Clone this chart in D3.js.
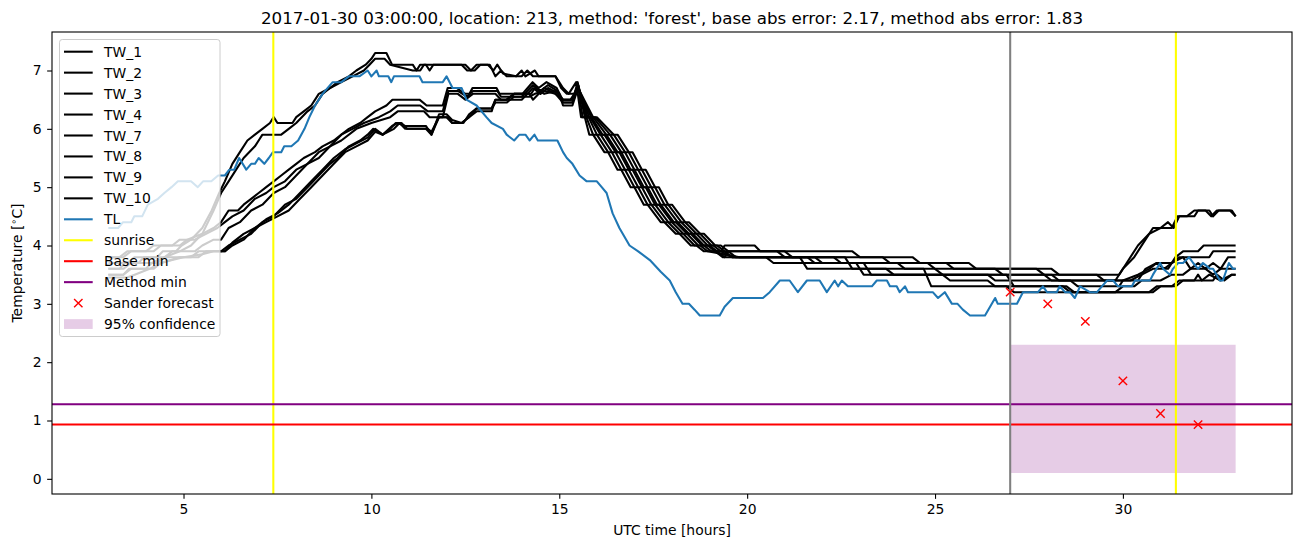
<!DOCTYPE html>
<html>
<head>
<meta charset="utf-8">
<script src="https://cdn.jsdelivr.net/npm/d3@7"></script>
<style>
  body { margin: 0; background: #fff; }
  svg { display: block; font-family: "DejaVu Sans", sans-serif; }
</style>
</head>
<body>
<svg id="chart" width="1302" height="547"></svg>
<script>
// sensor series, [hour, temperature]
const tw1 = [[3.0,3.6],[3.3,3.6],[3.45,3.7],[3.8,3.7],[3.95,3.8],[4.3,3.8],[4.45,3.9],[4.8,3.9],[4.95,4.0],[5.2,4.1],[5.5,4.3],[5.75,4.6],[5.95,4.9],[6.1,5.1],[6.3,5.4],[6.5,5.6],[6.7,5.8],[6.9,5.9],[7.1,6.0],[7.3,6.1],[7.4,6.2],[7.5,6.1],[7.9,6.1],[8.0,6.2],[8.2,6.3],[8.4,6.4],[8.6,6.6],[8.9,6.7],[9.1,6.8],[9.4,6.9],[9.6,7.0],[9.85,7.1],[10.0,7.2],[10.1,7.3],[10.4,7.3],[10.55,7.1],[11.1,7.1],[11.2,7.0],[11.3,7.1],[11.45,7.1],[11.55,7.0],[11.65,7.1],[12.5,7.1],[12.65,7.0],[12.8,7.1],[13.1,7.1],[13.25,7.0],[13.35,7.1],[13.5,6.95],[13.85,6.9],[14.0,7.0],[14.1,6.9],[14.35,7.0],[14.45,6.9],[14.9,6.9],[15.1,6.7],[15.25,6.6],[15.45,6.8],[15.58,6.2],[15.68,6.2],[15.8,5.9],[15.9,5.9],[16.2,5.6],[16.3,5.6],[16.55,5.3],[16.65,5.3],[16.9,5.0],[17.0,5.0],[17.25,4.7],[17.35,4.7],[17.7,4.4],[17.8,4.4],[18.1,4.2],[18.2,4.2],[18.5,4.0],[18.65,4.0],[18.85,3.9],[19.3,3.9],[19.4,4.0],[20.2,4.0],[20.35,3.9],[22.8,3.9],[23.0,3.8],[24.4,3.8],[24.6,3.7],[25.9,3.7],[26.1,3.6],[28.1,3.6],[28.3,3.5],[29.9,3.5],[30.0,3.6],[30.3,3.8],[30.6,4.1],[30.8,4.3],[31.3,4.3],[31.45,4.5],[31.7,4.5],[31.9,4.6],[32.2,4.6],[32.35,4.5],[32.5,4.6],[32.85,4.6],[33.0,4.5]];
const tw2 = [[3.0,3.5],[3.4,3.5],[3.55,3.6],[4.0,3.6],[4.15,3.7],[4.5,3.8],[4.9,3.9],[5.2,4.0],[5.5,4.2],[5.8,4.6],[6.0,4.9],[6.2,5.1],[6.4,5.3],[6.6,5.5],[6.9,5.7],[7.0,5.8],[7.1,5.9],[7.6,5.9],[7.8,6.0],[8.0,6.1],[8.3,6.3],[8.5,6.4],[8.7,6.6],[8.9,6.7],[9.2,6.8],[9.5,6.9],[9.8,7.0],[9.95,7.1],[10.1,7.2],[10.35,7.2],[10.5,7.1],[11.1,7.0],[11.3,7.0],[11.4,7.1],[12.4,7.1],[12.55,7.0],[12.75,7.0],[12.9,7.1],[13.15,7.1],[13.3,6.9],[13.45,7.0],[13.6,6.9],[14.0,6.9],[14.15,7.0],[14.3,6.9],[14.9,6.9],[15.05,6.7],[15.2,6.6],[15.4,6.6],[15.5,6.75],[15.75,6.2],[15.85,6.2],[16.15,5.9],[16.25,5.9],[16.55,5.6],[16.65,5.6],[16.9,5.3],[17.0,5.3],[17.25,5.0],[17.35,5.0],[17.6,4.7],[17.7,4.7],[18.05,4.4],[18.15,4.4],[18.45,4.2],[18.55,4.2],[18.85,4.0],[19.0,4.0],[19.2,3.9],[19.4,3.8],[19.5,3.9],[21.0,3.9],[21.2,3.8],[23.6,3.8],[23.8,3.7],[25.3,3.7],[25.5,3.6],[27.7,3.6],[27.9,3.5],[29.3,3.5],[29.5,3.4],[29.8,3.4],[30.1,3.7],[30.4,4.0],[30.7,4.2],[31.0,4.3],[31.2,4.4],[31.35,4.3],[31.5,4.5],[31.9,4.5],[32.0,4.6],[32.3,4.6],[32.4,4.5],[32.55,4.6],[32.9,4.6],[33.0,4.5]];
const tw3 = [[3.0,3.8],[3.4,3.8],[3.6,3.9],[4.2,3.9],[4.4,4.0],[4.9,4.0],[5.1,4.1],[5.5,4.2],[5.8,4.3],[6.0,4.4],[6.2,4.6],[6.45,4.6],[6.6,4.7],[6.8,4.8],[7.0,4.9],[7.2,5.0],[7.4,5.1],[7.6,5.2],[7.8,5.3],[8.0,5.4],[8.2,5.5],[8.5,5.6],[8.7,5.7],[9.0,5.8],[9.2,5.9],[9.4,6.0],[9.7,6.1],[9.9,6.2],[10.1,6.3],[10.4,6.4],[10.56,6.5],[11.28,6.5],[11.47,6.4],[11.9,6.4],[12.03,6.7],[12.27,6.7],[12.5,6.6],[12.61,6.6],[12.69,6.7],[13.33,6.7],[13.41,6.6],[14.02,6.6],[14.29,6.8],[14.45,6.7],[14.66,6.8],[14.93,6.7],[15.09,6.5],[15.36,6.5],[15.49,6.8],[15.68,6.2],[15.78,6.2],[16.0,5.9],[16.1,5.9],[16.4,5.6],[16.5,5.6],[16.75,5.3],[16.85,5.3],[17.1,5.0],[17.2,5.0],[17.45,4.7],[17.55,4.7],[17.9,4.4],[18.0,4.4],[18.3,4.2],[18.4,4.2],[18.7,4.0],[18.85,4.0],[19.05,3.9],[20.8,3.9],[21.0,3.8],[22.3,3.8],[22.5,3.7],[24.8,3.7],[25.0,3.6],[26.6,3.6],[26.8,3.5],[28.1,3.5],[28.3,3.4],[30.2,3.4],[30.5,3.5],[30.8,3.6],[31.2,3.6],[31.4,3.8],[31.6,3.9],[32.0,3.9],[32.15,4.0],[33.0,4.0]];
const tw4 = [[3.0,3.7],[3.5,3.7],[3.7,3.8],[4.5,3.8],[4.7,3.9],[5.3,3.9],[5.5,4.0],[5.8,4.1],[6.0,4.1],[6.2,4.3],[6.5,4.4],[6.8,4.6],[7.1,4.7],[7.4,4.9],[7.7,5.0],[8.0,5.2],[8.3,5.4],[8.6,5.5],[8.9,5.7],[9.2,5.8],[9.6,6.0],[10.0,6.1],[10.5,6.2],[10.7,6.3],[11.4,6.3],[11.55,6.2],[11.9,6.2],[12.05,6.6],[12.3,6.6],[12.5,6.5],[12.7,6.6],[13.3,6.6],[13.45,6.5],[14.0,6.5],[14.3,6.7],[14.5,6.6],[14.7,6.7],[15.0,6.6],[15.1,6.4],[15.35,6.4],[15.5,6.7],[15.8,6.2],[15.9,6.2],[16.25,5.9],[16.35,5.9],[16.65,5.6],[16.75,5.6],[17.0,5.3],[17.1,5.3],[17.35,5.0],[17.45,5.0],[17.7,4.7],[17.8,4.7],[18.15,4.4],[18.25,4.4],[18.55,4.2],[18.65,4.2],[18.95,4.0],[19.1,4.0],[19.3,3.9],[19.6,3.8],[21.6,3.8],[21.8,3.7],[24.0,3.7],[24.2,3.6],[25.0,3.6],[25.2,3.5],[27.9,3.5],[28.1,3.4],[30.4,3.4],[30.6,3.6],[30.9,3.7],[31.3,3.7],[31.5,3.8],[32.3,3.8],[32.4,3.9],[33.0,3.9]];
const tw7 = [[3.0,3.6],[3.4,3.6],[3.6,3.7],[4.3,3.7],[4.5,3.8],[5.2,3.8],[5.4,3.9],[6.0,3.9],[6.2,4.0],[6.5,4.1],[6.8,4.2],[7.1,4.4],[7.4,4.5],[7.7,4.7],[8.0,4.8],[8.3,5.0],[8.6,5.2],[8.9,5.4],[9.1,5.5],[9.4,5.7],[9.7,5.8],[9.9,5.9],[10.05,6.0],[10.3,5.9],[10.5,6.0],[10.65,6.1],[10.8,6.1],[10.95,6.0],[11.45,6.0],[11.6,5.9],[11.8,6.2],[12.0,6.2],[12.15,6.1],[12.4,6.1],[12.6,6.2],[12.8,6.3],[13.2,6.3],[13.3,6.5],[13.6,6.5],[13.8,6.6],[14.2,6.6],[14.3,6.5],[14.6,6.7],[14.9,6.6],[15.1,6.5],[15.3,6.5],[15.5,6.7],[15.85,6.2],[15.95,6.2],[16.35,5.9],[16.45,5.9],[16.75,5.6],[16.85,5.6],[17.1,5.3],[17.2,5.3],[17.45,5.0],[17.55,5.0],[17.8,4.7],[17.9,4.7],[18.25,4.4],[18.35,4.4],[18.65,4.2],[18.75,4.2],[19.05,4.0],[19.2,4.0],[19.4,3.9],[19.6,3.8],[20.5,3.8],[20.7,3.7],[23.1,3.7],[23.3,3.5],[25.2,3.5],[25.4,3.4],[26.4,3.4],[26.6,3.3],[28.4,3.3],[28.6,3.2],[29.8,3.2],[30.0,3.3],[30.3,3.3],[30.5,3.4],[31.0,3.4],[31.3,3.5],[31.6,3.5],[31.8,3.6],[32.2,3.6],[32.4,3.5],[32.6,3.6],[33.0,3.6]];
const tw8 = [[3.0,3.45],[3.5,3.45],[3.7,3.5],[4.1,3.6],[4.4,3.7],[4.9,3.8],[5.4,3.8],[5.6,3.9],[6.1,3.9],[6.3,4.0],[6.6,4.1],[6.9,4.3],[7.2,4.4],[7.5,4.5],[7.8,4.6],[8.1,4.8],[8.4,5.0],[8.7,5.2],[9.0,5.4],[9.3,5.6],[9.6,5.7],[9.9,5.8],[10.1,5.95],[10.3,5.9],[10.6,6.0],[10.75,6.1],[10.9,6.0],[11.5,6.0],[11.6,5.95],[11.8,6.2],[12.05,6.2],[12.15,6.1],[12.45,6.1],[12.6,6.25],[12.8,6.35],[13.2,6.35],[13.3,6.45],[13.6,6.45],[13.8,6.55],[14.2,6.55],[14.35,6.6],[14.6,6.65],[14.9,6.6],[15.1,6.45],[15.35,6.45],[15.5,6.7],[15.9,6.2],[16.0,6.2],[16.45,5.9],[16.55,5.9],[16.85,5.6],[16.95,5.6],[17.2,5.3],[17.3,5.3],[17.55,5.0],[17.65,5.0],[17.9,4.7],[18.0,4.7],[18.35,4.4],[18.45,4.4],[18.75,4.2],[18.85,4.2],[19.15,4.0],[19.3,4.0],[19.5,3.9],[19.7,3.8],[21.4,3.8],[21.6,3.6],[24.7,3.6],[24.9,3.3],[26.9,3.3],[27.1,3.2],[30.7,3.2],[30.9,3.3],[31.3,3.3],[31.5,3.4],[31.9,3.4],[32.0,3.5],[32.1,3.4],[32.3,3.5],[32.6,3.4],[32.9,3.5],[33.0,3.5]];
const tw9 = [[3.0,3.5],[3.4,3.5],[3.6,3.6],[4.2,3.6],[4.4,3.7],[4.7,3.75],[5.0,3.8],[5.5,3.85],[5.8,3.9],[6.1,3.9],[6.3,4.05],[6.6,4.2],[6.9,4.3],[7.2,4.45],[7.5,4.55],[7.8,4.7],[8.1,4.9],[8.4,5.1],[8.7,5.3],[9.0,5.5],[9.3,5.65],[9.6,5.75],[9.9,5.85],[10.1,6.0],[10.3,5.9],[10.55,6.05],[10.7,6.1],[10.9,6.05],[11.45,6.05],[11.6,5.9],[11.8,6.25],[12.0,6.25],[12.15,6.15],[12.4,6.1],[12.6,6.2],[12.8,6.35],[13.2,6.35],[13.3,6.5],[13.6,6.5],[13.8,6.6],[14.25,6.6],[14.35,6.7],[14.6,6.6],[14.9,6.65],[15.1,6.5],[15.35,6.5],[15.5,6.75],[15.72,6.2],[15.82,6.2],[16.1,5.9],[16.2,5.9],[16.5,5.6],[16.6,5.6],[16.85,5.3],[16.95,5.3],[17.2,5.0],[17.3,5.0],[17.55,4.7],[17.65,4.7],[18.0,4.4],[18.1,4.4],[18.4,4.2],[18.5,4.2],[18.8,4.0],[18.95,4.0],[19.15,3.9],[19.35,3.8],[21.8,3.8],[22.0,3.7],[22.9,3.7],[23.1,3.5],[26.9,3.5],[27.1,3.3],[28.5,3.3],[28.7,3.2],[30.8,3.2],[31.0,3.3],[31.4,3.3],[31.6,3.4],[32.4,3.4],[32.5,3.5],[32.7,3.4],[32.9,3.5],[33.0,3.5]];
const tw10 = [[3.0,3.8],[3.3,3.8],[3.5,3.9],[4.0,3.9],[4.2,4.0],[4.7,4.0],[4.9,4.1],[5.3,4.1],[5.6,4.2],[5.9,4.3],[6.1,4.4],[6.3,4.5],[6.6,4.6],[6.9,4.8],[7.2,4.9],[7.4,5.0],[7.7,5.1],[8.0,5.3],[8.3,5.4],[8.6,5.6],[8.9,5.7],[9.2,5.9],[9.5,6.0],[9.8,6.1],[10.2,6.2],[10.5,6.3],[10.7,6.4],[11.3,6.4],[11.5,6.3],[11.9,6.3],[12.05,6.65],[12.3,6.65],[12.55,6.55],[12.7,6.65],[13.35,6.65],[13.45,6.55],[14.0,6.55],[14.3,6.75],[14.5,6.65],[14.7,6.75],[14.95,6.65],[15.1,6.45],[15.35,6.45],[15.5,6.75],[15.62,6.2],[15.72,6.2],[15.9,5.9],[16.0,5.9],[16.3,5.6],[16.4,5.6],[16.65,5.3],[16.75,5.3],[17.0,5.0],[17.1,5.0],[17.35,4.7],[17.45,4.7],[17.8,4.4],[17.9,4.4],[18.2,4.2],[18.3,4.2],[18.6,4.0],[18.75,4.0],[18.95,3.9],[19.8,3.8],[22.6,3.8],[22.8,3.6],[23.7,3.6],[23.9,3.5],[26.4,3.5],[26.6,3.4],[28.6,3.4],[28.8,3.3],[29.9,3.3],[30.0,3.4],[30.4,3.5],[30.7,3.6],[30.9,3.7],[31.1,3.6],[31.3,3.7],[31.6,3.8],[31.8,3.6],[32.0,3.7],[32.2,3.6],[32.4,3.7],[32.6,3.6],[32.8,3.8],[33.0,3.8]];

const twNames = ["TW_1", "TW_2", "TW_3", "TW_4", "TW_7", "TW_8", "TW_9", "TW_10"];
const twSeries = [tw1, tw2, tw3, tw4, tw7, tw8, tw9, tw10];

const tl = [[3.0,4.3],[3.26,4.3],[3.39,4.4],[3.61,4.4],[3.69,4.5],[3.9,4.5],[4.05,4.7],[4.32,4.8],[4.49,4.9],[4.68,5.0],[4.85,5.1],[5.0,5.1],[5.2,5.1],[5.38,5.0],[5.52,5.1],[5.74,5.1],[5.92,5.2],[6.1,5.2],[6.22,5.3],[6.35,5.3],[6.48,5.5],[6.67,5.3],[6.8,5.4],[6.9,5.4],[7.0,5.5],[7.15,5.4],[7.27,5.5],[7.38,5.6],[7.6,5.6],[7.68,5.7],[7.87,5.7],[8.05,5.8],[8.22,6.0],[8.35,6.2],[8.5,6.4],[8.7,6.6],[8.97,6.8],[9.2,6.8],[9.4,6.9],[9.68,6.9],[9.9,7.0],[10.0,6.9],[10.14,7.0],[10.2,6.9],[10.45,6.9],[10.53,6.8],[10.6,6.9],[11.28,6.9],[11.36,6.8],[11.9,6.8],[12.0,6.9],[12.16,6.7],[12.4,6.7],[12.53,6.5],[12.8,6.4],[13.06,6.2],[13.2,6.1],[13.5,6.0],[13.6,5.9],[13.8,5.8],[13.94,5.9],[14.1,5.9],[14.21,5.8],[14.34,5.9],[14.43,5.8],[14.95,5.8],[15.1,5.6],[15.2,5.5],[15.35,5.4],[15.54,5.2],[15.73,5.1],[16.0,5.1],[16.13,5.0],[16.26,4.9],[16.42,4.55],[16.6,4.3],[16.87,4.0],[17.1,3.9],[17.41,3.75],[17.7,3.55],[17.94,3.4],[18.1,3.2],[18.28,3.0],[18.45,3.0],[18.6,2.9],[18.74,2.8],[19.27,2.8],[19.4,2.95],[19.62,3.1],[20.42,3.1],[20.6,3.2],[20.87,3.4],[21.13,3.4],[21.35,3.2],[21.59,3.4],[21.93,3.4],[22.12,3.2],[22.33,3.4],[22.42,3.3],[22.52,3.4],[22.68,3.3],[23.32,3.3],[23.45,3.4],[23.72,3.4],[23.8,3.3],[23.98,3.3],[24.06,3.2],[24.2,3.3],[24.28,3.2],[24.94,3.2],[25.08,3.1],[25.26,3.2],[25.45,3.0],[25.6,3.0],[25.74,2.9],[25.93,2.8],[26.33,2.8],[26.6,3.1],[26.67,3.0],[27.18,3.0],[27.34,3.2],[27.74,3.2],[27.87,3.3],[27.98,3.2],[28.24,3.2],[28.32,3.3],[28.46,3.2],[28.59,3.2],[28.72,3.1],[28.86,3.3],[29.12,3.2],[29.31,3.2],[29.44,3.3],[29.58,3.4],[29.74,3.4],[29.87,3.3],[30.24,3.3],[30.32,3.4],[30.72,3.4],[30.8,3.5],[30.99,3.7],[31.07,3.6],[31.25,3.5],[31.33,3.6],[31.47,3.7],[31.6,3.7],[31.76,3.8],[31.87,3.7],[32.0,3.6],[32.13,3.7],[32.32,3.6],[32.4,3.6],[32.58,3.4],[32.66,3.4],[32.82,3.7],[32.93,3.6],[33.0,3.6]];

const sunriseHours = [7.39, 31.41];
const forecastStart = 27;
const baseMin = 0.93;
const methodMin = 1.28;
const forecastHours = [27, 28, 29, 30, 31, 32];
const forecastValues = [3.2, 3.0, 2.7, 1.68, 1.12, 0.93];
const confHours = [27, 33];
const confLow = [0.1, 0.1];
const confHigh = [2.3, 2.3];

const xTicks = [5, 10, 15, 20, 25, 30];
const yTicks = [0, 1, 2, 3, 4, 5, 6, 7];
const title = "2017-01-30 03:00:00, location: 213, method: 'forest', base abs error: 2.17, method abs error: 1.83";

const margin = { left: 52, right: 1292, top: 32, bottom: 494 };
const lw = 2.08;

const svg = d3.select("#chart");

const x = d3.scaleLinear().domain([1.5, 34.5]).range([margin.left, margin.right]);
const y = d3.scaleLinear().domain([-0.26, 7.66]).range([margin.bottom, margin.top]);

svg.append("defs").append("clipPath").attr("id", "plot-clip")
  .append("rect")
  .attr("x", margin.left).attr("y", margin.top)
  .attr("width", margin.right - margin.left)
  .attr("height", margin.bottom - margin.top);

const plot = svg.append("g").attr("clip-path", "url(#plot-clip)");

// confidence band
const band = d3.area()
  .x((d, i) => x(confHours[i]))
  .y0((d, i) => y(confLow[i]))
  .y1((d, i) => y(confHigh[i]));
plot.append("path")
  .datum(confHours)
  .attr("d", band)
  .attr("fill", "purple")
  .attr("fill-opacity", 0.2);

const line = d3.line().x(d => x(d[0])).y(d => y(d[1]));

twSeries.forEach(s => {
  plot.append("path")
    .datum(s)
    .attr("d", line)
    .attr("fill", "none")
    .attr("stroke", "black")
    .attr("stroke-width", lw)
    .attr("stroke-linejoin", "round");
});

plot.append("path")
  .datum(tl)
  .attr("d", line)
  .attr("fill", "none")
  .attr("stroke", "#1f77b4")
  .attr("stroke-width", lw)
  .attr("stroke-linejoin", "round");

const vline = (h, color) => {
  plot.append("line")
    .attr("x1", x(h)).attr("x2", x(h))
    .attr("y1", margin.top).attr("y2", margin.bottom)
    .attr("stroke", color)
    .attr("stroke-width", lw);
};
const hline = (v, color) => {
  plot.append("line")
    .attr("x1", margin.left).attr("x2", margin.right)
    .attr("y1", y(v)).attr("y2", y(v))
    .attr("stroke", color)
    .attr("stroke-width", lw);
};

sunriseHours.forEach(h => vline(h, "yellow"));
hline(baseMin, "red");
hline(methodMin, "purple");
vline(forecastStart, "grey");

const cross = (g, cx, cy) => {
  const s = 4.2;
  g.append("path")
    .attr("d", `M${cx - s},${cy - s}L${cx + s},${cy + s}M${cx - s},${cy + s}L${cx + s},${cy - s}`)
    .attr("stroke", "red")
    .attr("stroke-width", 1.4)
    .attr("fill", "none");
};
forecastHours.forEach((h, i) => cross(plot, x(h), y(forecastValues[i])));

// axes
const xAxis = svg.append("g")
  .attr("transform", `translate(0,${margin.bottom})`)
  .call(d3.axisBottom(x).tickValues(xTicks).tickSize(4.86).tickSizeOuter(0).tickPadding(5.5));
const yAxis = svg.append("g")
  .attr("transform", `translate(${margin.left},0)`)
  .call(d3.axisLeft(y).tickValues(yTicks).tickSize(4.86).tickSizeOuter(0).tickPadding(5.5));

[xAxis, yAxis].forEach(a => {
  a.select(".domain").remove();
  a.selectAll("line").attr("stroke", "black").attr("stroke-width", 1.1);
  a.selectAll("text")
    .attr("fill", "black")
    .style("font-family", "DejaVu Sans")
    .style("font-size", "13.9px");
});

svg.append("rect")
  .attr("x", margin.left).attr("y", margin.top)
  .attr("width", margin.right - margin.left)
  .attr("height", margin.bottom - margin.top)
  .attr("fill", "none")
  .attr("stroke", "black")
  .attr("stroke-width", 1.1);

// labels
svg.append("text")
  .attr("x", (margin.left + margin.right) / 2)
  .attr("y", 24)
  .attr("text-anchor", "middle")
  .style("font-size", "16.7px")
  .text(title);

svg.append("text")
  .attr("x", (margin.left + margin.right) / 2)
  .attr("y", 535)
  .attr("text-anchor", "middle")
  .style("font-size", "13.9px")
  .text("UTC time [hours]");

const ylab = svg.append("text")
  .attr("transform", `translate(22,${(margin.top + margin.bottom) / 2}) rotate(-90)`)
  .attr("text-anchor", "middle")
  .style("font-size", "13.9px");
ylab.append("tspan").text("Temperature [");
ylab.append("tspan").attr("dy", -5).style("font-size", "9.7px").text("\u2218");
ylab.append("tspan").attr("dy", 5).text("C]");

// legend
const legendItems = twNames.map(n => ({ label: n, kind: "line", color: "black" }))
  .concat([
    { label: "TL", kind: "line", color: "#1f77b4" },
    { label: "sunrise", kind: "line", color: "yellow" },
    { label: "Base min", kind: "line", color: "red" },
    { label: "Method min", kind: "line", color: "purple" },
    { label: "Sander forecast", kind: "marker", color: "red" },
    { label: "95% confidence", kind: "patch", color: "purple" }
  ]);

const legend = svg.append("g");
legend.append("rect")
  .attr("x", 59.5).attr("y", 39.5)
  .attr("width", 160.5).attr("height", 297)
  .attr("rx", 2.8)
  .attr("fill", "white")
  .attr("fill-opacity", 0.8)
  .attr("stroke", "#cccccc")
  .attr("stroke-width", 1);

legendItems.forEach((d, i) => {
  const cy = 51.7 + i * 20.95;
  if (d.kind === "line") {
    legend.append("line")
      .attr("x1", 64).attr("x2", 92.7)
      .attr("y1", cy).attr("y2", cy)
      .attr("stroke", d.color)
      .attr("stroke-width", lw);
  } else if (d.kind === "marker") {
    cross(legend, 78.3, cy);
  } else {
    legend.append("rect")
      .attr("x", 64).attr("y", cy - 4.9)
      .attr("width", 28.7).attr("height", 9.8)
      .attr("fill", d.color)
      .attr("fill-opacity", 0.2);
  }
  legend.append("text")
    .attr("x", 104)
    .attr("y", cy)
    .attr("dy", "0.36em")
    .style("font-size", "13.9px")
    .text(d.label);
});
</script>
</body>
</html>
